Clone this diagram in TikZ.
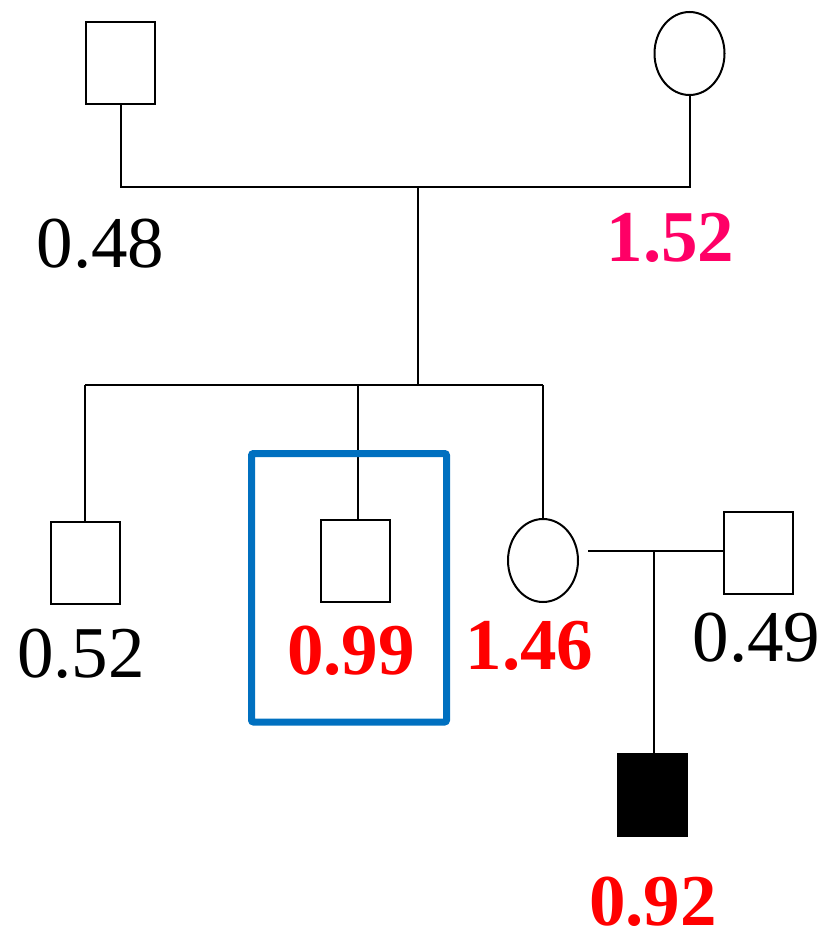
\documentclass[tikz,border=0pt]{standalone}
\usepackage{fontspec}
\setmainfont{Liberation Serif}
\usetikzlibrary{shapes.geometric}
\definecolor{hlred}{HTML}{FF0000}
\definecolor{hlpink}{HTML}{FF0066}
\definecolor{hlblue}{HTML}{0070C0}
\begin{document}
\begin{tikzpicture}[x=1pt,y=-1pt,
  line width=2pt,
  male/.style={draw,rectangle,inner sep=0pt,minimum width=69pt,minimum height=82pt},
  female/.style={draw,ellipse,inner sep=0pt,minimum width=70pt,minimum height=83pt},
  affected/.style={male,fill=black},
  val/.style={inner sep=0pt,anchor=base,font=\fontsize{73}{80}\selectfont},
  valhi/.style={val,font=\fontsize{73}{80}\selectfont\bfseries,text=hlred}]
\useasboundingbox (0,0) rectangle (825,931);

% first generation
\node[male]   (F) at (120.5,63) {};
\node[female] (M) at (689.5,53.5) {};
\coordinate (mL) at (120.5,187);
\coordinate (mR) at (689.5,187);
\coordinate (mC) at (418,187);
\draw (F.south) -- (mL) -- (mR) -- (M.south);

% sibship line
\coordinate (sC) at (418,385);
\coordinate (sL) at (85,385);
\coordinate (sM) at (358,385);
\coordinate (sR) at (543,385);
\draw (mC) -- (sC);
\draw (sL) -- (sR);

% second generation
\node[male]   (S1) at (85,563) {};
\node[male]   (S2) at (355,560.5) {};
\node[female] (D)  at (543,560.5) {};
\node[male]   (H)  at (758,553) {};
\draw (sL) -- (S1.north);
\draw (sM) -- (sM |- S2.north);
\draw (sR) -- (D.north);

% highlighted individual
\node[draw=hlblue,line width=7pt,rounded corners=2pt,inner sep=0pt,
      minimum width=195pt,minimum height=268.5pt] (P) at (349,587.75) {};

% marriage and child
\coordinate (cM) at (654,551);
\draw (D.east |- cM) ++(9,0) -- (H.west |- cM);
\node[affected] (C) at (652.5,794.5) {};
\draw (cM) -- (cM |- C.north);

% values
\node[val] (vF) at (100.5,267) {0.48};
\node[val,font=\fontsize{73}{80}\selectfont\bfseries,text=hlpink] (vM) at (670.5,261) {1.52};
\node[val] (vS1) at (81,677) {0.52};
\node[valhi] (vS2) at (351,674) {0.99};
\node[valhi] (vD) at (529.5,669) {1.46};
\node[val] (vH) at (756.5,661) {0.49};
\node[valhi] (vC) at (653,925) {0.92};
\end{tikzpicture}
\end{document}
